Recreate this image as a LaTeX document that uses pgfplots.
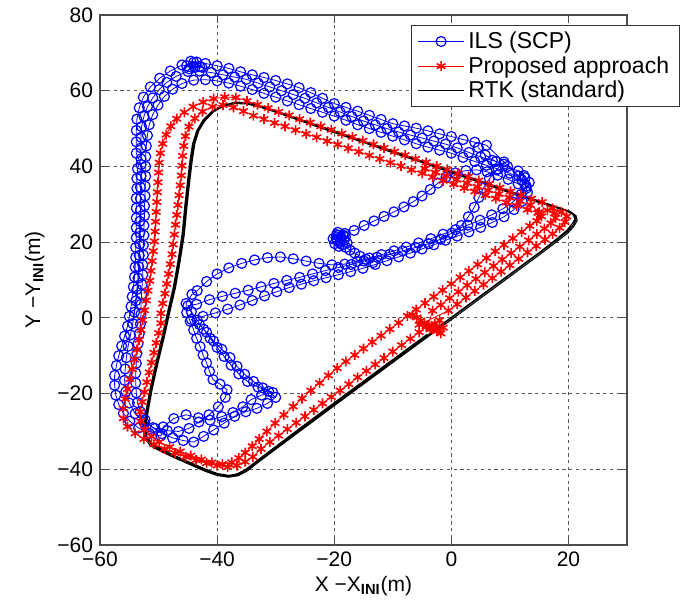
\documentclass[border=0pt]{standalone}
\usepackage{pgfplots}
\pgfplotsset{compat=1.18}
\usepackage{fontspec}
\setmainfont{Liberation Sans}

\definecolor{ilsblue}{RGB}{0,0,255}
\definecolor{propred}{RGB}{255,0,0}

\begin{document}
\begin{tikzpicture}
\begin{axis}[
    scale only axis,
    width=263.5pt, height=265pt,
    xmin=-60, xmax=30, ymin=-60, ymax=80,
    xtick={-60,-40,-20,0,20},
    xticklabels={−60,−40,−20,0,20},
    ytick={-60,-40,-20,0,20,40,60,80},
    yticklabels={−60,−40,−20,0,20,40,60,80},
    tick align=inside,
    major tick length=4pt,
    tick style={black!70, line width=0.5pt},
    axis line style={black!70, line width=0.7pt},
    grid=major,
    major grid style={black!65, line width=0.5pt, dash pattern=on 1.6pt off 1.8pt},
    tick label style={font=\fontsize{10.5}{12}\selectfont},
    label style={font=\fontsize{10.5}{12}\selectfont},
    xlabel={X −X\textsubscript{\textbf{INI}}(m)},
    ylabel={Y −Y\textsubscript{\textbf{INI}}(m)},
    xlabel style={at={(axis description cs:0.5,-0.077)}, anchor=center},
    ylabel style={at={(axis description cs:-0.124,0.5)}, anchor=center},
    legend style={at={(1.1,0.981)}, anchor=north east,
        draw=black!80, line width=0.6pt, fill=white,
        font=\fontsize{11.5}{12}\selectfont, inner xsep=3pt, inner ysep=1pt,
        row sep=-1.5pt, cells={anchor=west}},
    legend image code/.code={
        \draw[mark repeat=2,mark phase=2] plot coordinates {(0cm,0cm) (0.4cm,0cm) (0.8cm,0cm)};},
]
% ILS (SCP)
\addplot[color=ilsblue, line width=0.4pt, mark=o, mark size=2.5pt,
    mark options={line width=0.6pt}] coordinates {
(-13.4,14.6)(-14.6,15.5)(-15.6,16.3)(-16.5,17.1)(-17.3,17.9)(-18,18.6)(-18.6,19.3)(-19.1,19.9)
(-19.5,20.5)(-19.7,21.2)(-19.3,21.8)(-18.8,21.2)(-18.3,20.5)(-18.9,20.3)(-19.6,22.0)(-18.2,22.3)
(-19.9,19.6)(-19.2,18.9)(-18.5,21.9)(-20.2,20.9)(-17.8,19.8)(-18.1,21.4)(-19.4,22.6)
(-16.6,23.1)(-14.9,24.4)(-13.2,25.6)(-11.5,26.8)(-9.8,28)(-8.1,29.3)(-6.5,30.7)(-5,32.2)
(-3.6,33.9)(-2.3,35.6)(-0.9,37.2)(0.7,38.3)(2.5,38.9)(4.3,39.1)(6.1,38.6)(7.9,37.7)(9.7,36.6)
(11.4,35.4)(12.8,34.2)(13.3,35.8)(12.4,37.6)
(12,36.5)(10,38.2)(8,39.3)(6,40.3)(4,41.3)(2,42.4)(0,43.5)(-2,44.3)(-4,45.1)(-6,46)(-8,47)
(-10,48)(-12,49)(-14,50)(-16,51)(-18,52.2)(-20,53.3)(-22,54.3)(-24,55.3)(-26,56.3)(-28,57.3)
(-30,58.3)(-32,59.3)(-34,60.3)(-36,61.2)(-38,62)(-40,62.6)(-42,62.9)(-44,62.8)(-46,61.9)
(-47.6,60.4)(-49,58.5)(-50.1,56.2)(-51,53.7)(-51.6,51)(-51.9,48.2)(-52.1,45.4)(-52.2,42.6)
(-52.2,40)(-52.2,37.4)(-52.3,34.8)(-52.3,32.2)(-52.4,29.6)(-52.4,27)(-52.5,24.4)(-52.5,21.8)
(-52.6,19.2)(-52.6,16.6)(-52.7,14)(-52.7,11.4)(-52.8,8.8)(-52.9,6.2)(-53,3.6)(-53,1)
(-53.1,-1.6)(-53.3,-4.2)(-53.5,-6.8)(-53.7,-9.4)(-53.8,-12)(-53.9,-14.6)(-53.9,-17.2)
(-53.8,-19.8)(-53.6,-22.4)(-53.1,-24.8)(-52.3,-27)(-51,-29)(-49.4,-30.6)(-47.6,-31.7)
(-45.8,-32.4)(-44,-32.8)(-42.3,-31.3)(-40.6,-29.6)(-38.8,-27.8)(-37,-26)(-35.1,-24.8)
(-33.2,-23.9)(-31.4,-22.6)(-30,-21)(-31.2,-19.4)(-33,-18.3)(-34.8,-16.8)(-36.3,-14.8)
(-37.6,-12.5)(-38.8,-10.2)(-40,-7.8)(-41.2,-5.4)(-42.3,-3)(-43.4,-0.6)(-44.4,1.6)(-45,3.2)
(-43.5,3.6)(-41.3,4.8)(-39.1,5.7)(-36.9,6.5)(-34.7,7.3)(-32.5,8.2)(-30.3,9.1)(-28.1,9.9)
(-25.9,10.7)(-23.7,11.6)(-21.5,12.5)(-19.3,13.3)(-17.1,14.1)(-14.9,15.0)(-12.7,16.0)
(-10.5,16.8)(-8.3,17.7)(-6.1,18.6)(-3.9,19.6)(-1.8,20.8)(0.1,22.4)(1.7,24.4)(2.9,26.7)
(3.9,29.2)(4.7,31.8)(5.5,34.3)(6.5,36.8)(7.7,39.1)(9,41.2)
(9,40.6)(7,41.6)(5,42.5)(3,43.7)(1,44.9)(-1,45.9)(-3,46.7)(-5,47.5)(-7,48.3)(-9,49.1)(-11,50)
(-13,51)(-15,52)(-17,53.2)(-19,54.4)(-21,55.6)(-23,56.8)(-25,58)(-27,59)(-29,60)(-31,61)
(-33,62)(-35,63)(-37,63.6)(-39,64.2)(-41,64.8)(-43,65.2)(-45,65.1)(-47,63.8)(-48.6,62.2)
(-49.9,60.3)(-51,58.1)(-51.9,55.8)(-52.5,53.2)(-52.9,50.5)(-53,47.7)(-53,44.9)(-53,42)
(-53.6,39.4)(-53.7,36.8)(-53.7,34.2)(-53.8,31.6)(-53.8,29)(-53.8,26.4)(-53.8,23.8)
(-53.8,21.2)(-53.9,18.6)(-53.9,16)(-54,13.4)(-54.1,10.8)(-54.3,8.2)(-54.5,5.6)(-54.7,3)
(-55,0.4)(-55.3,-2.2)(-55.8,-4.8)(-56.3,-7.4)(-56.8,-10)(-57.2,-12.6)(-57.5,-15.2)
(-57.5,-17.8)(-57.3,-20.4)(-56.8,-22.9)(-56,-25.2)(-54.9,-27.3)(-53.4,-29.1)(-51.6,-30.5)
(-49.6,-31.2)(-49.2,-28.8)(-47.4,-26.6)(-45.3,-25.6)(-43.2,-26.4)(-41.2,-27)(-39.2,-26.1)
(-37.3,-25)(-35.6,-23.5)(-34.2,-21.6)(-32.4,-20.4)(-30.5,-19.7)(-32.2,-18.5)(-33.8,-16.8)
(-35.3,-14.9)(-36.6,-12.8)(-37.8,-10.5)(-39.2,-8.3)(-40.6,-6.1)(-41.8,-3.8)(-43,-1.8)
(-44.4,-0.4)(-42.4,0.4)(-40.3,1.3)(-38.2,2.3)(-36.1,3.4)(-34,4.6)(-31.9,5.8)(-29.8,6.9)
(-27.7,8)(-25.6,8.9)(-23.5,9.8)(-21.4,10.6)(-19.3,11.4)(-17.2,12.2)(-15.1,13.1)(-13,14.1)
(-11,15.1)(-9,16.1)(-7,17.1)(-5,18.2)(-3,19.3)(-1,20.5)(1,21.6)(3,22.7)(5,23.9)(7,25.2)
(9,26.7)(10.7,28.6)(12.1,30.8)(13,33.2)(12.5,35.4)(11.5,37.5)
(6,45.6)(4,46.4)(2,47.1)(0,47.9)(-2,48.6)(-4,49.4)(-6,50.1)(-8,50.7)(-10,51.3)(-12,52.4)
(-14,53.5)(-16,54.6)(-18,55.6)(-20,56.6)(-22,58)(-24,59.5)(-26,60.8)(-28,61.8)(-30,62.7)
(-32,63.5)(-34,64.2)(-36,65)(-38,65.9)(-40,66.6)(-42,67.2)(-43,66.4)(-44.5,67.8)(-43.5,67.6)
(-45.2,66.6)(-44,67.5)(-42.6,66.2)(-44.8,65.8)(-43.8,66.1)(-46,66.8)(-48,65.2)(-49.8,63.3)
(-51.4,61)(-52.6,58.3)(-53.3,55.5)
(-53.7,52.5)(-53.8,49.5)(-53.8,46.5)(-53.8,43.5)
(-53,40.5)(-53,37.5)(-53.1,34.5)(-53.1,31.5)(-53.1,28.5)(-53.2,25.5)(-53.2,22.5)(-53.2,19.5)
(-53.3,16.5)(-53.4,13.5)(-53.5,10.5)(-53.7,7.5)(-53.9,4.5)(-54.1,1.5)(-54.4,-1.5)(-54.8,-4.5)
(-55.2,-7.5)(-55.5,-10.5)(-55.7,-13.5)(-55.8,-16.5)(-55.6,-19.5)(-55,-22.5)(-54,-25.3)
(-52.5,-27.6)(-50.6,-29.2)(-48.5,-29.8)(-46.6,-30)(-44.8,-29.2)(-43.1,-27.5)(-41.4,-25.6)
(-39.8,-23.5)(-38.6,-21)(-38.3,-19)(-39.5,-17.5)(-40.7,-16.3)(-41.3,-14.1)(-41.8,-11.9)
(-42.4,-9.8)(-42.9,-7.6)(-43.5,-5.4)(-44,-3.2)(-44.6,-0.9)(-45.2,1.4)(-45.3,3.8)(-44.3,6.2)
(-43.4,7.2)(-41.8,9.6)(-40,11.6)(-38,13.2)(-35.8,14.4)(-33.6,15.3)(-31.4,15.9)(-29.2,16.1)
(-27,15.6)(-24.8,15.0)(-22.6,14.4)(-20.4,14.0)(-18.2,14.2)(-16.1,14.9)(-14,15.8)(-11.9,16.7)
(-9.8,17.7)(-7.7,18.7)(-5.6,19.8)(-3.5,20.9)(-1.4,22.1)(0.7,23.3)(2.8,24.5)(4.9,25.8)
(6.9,27.2)(8.8,28.8)(10.5,30.6)(11.9,32.6)(12.8,34.8)(12.6,37)(11.4,38.8)(9.6,40)(7.6,41.3)
(5.8,43)(4.6,45)
};
% Proposed approach
\addplot[color=propred, line width=0.4pt, mark=asterisk, mark size=2.5pt,
    mark options={line width=0.8pt}] coordinates {
(-6.6,0.8)(-5.9,0.1)(-5.2,-0.7)(-4.6,-1.4)(-3.9,-2.1)(-3.2,-2.8)(-2.5,-3.5)(-1.8,-4.1)
(-2.2,-3.1)(-3.0,-2.3)(-3.6,-3.0)(-4.3,-2.2)(-2.8,-1.6)(-2.0,-0.6)(-1.4,-2.6)(-5.5,-1.8)
(-0.5,1.9)(1,3.6)(2.5,5.4)(4,7.1)(5.5,8.8)(7,10.5)(8.5,12.2)(10,13.9)(11.5,15.6)(13,17.3)
(14.5,19.0)(16,20.7)(17.3,22.2)(18.5,23.8)(19.4,25.3)(19.7,26.8)(18.8,28.0)(17.3,28.9)
(15.5,30.6)(13.7,31.5)(11.9,32.5)(10.1,33.4)(8.3,34.4)(6.5,35.4)(4.7,36.3)(2.9,37.3)
(1.1,38.2)(-0.7,39.2)(-2.5,40.1)(-4.3,41.1)(-6.1,42.0)(-7.9,43.0)(-9.7,43.9)(-11.5,44.9)
(-13.3,45.8)(-15.1,46.8)(-16.9,47.8)(-18.7,48.7)(-20.5,49.7)(-22.3,50.6)(-24.1,51.6)
(-25.9,52.5)(-27.7,53.5)(-29.5,54.4)(-31.3,55.4)(-33.1,56.3)(-34.9,57.3)
(-36.8,58.2)(-38.7,58.3)(-40.6,57.9)(-42.4,57.0)(-44.1,55.8)(-45.6,54.3)(-46.9,52.6)
(-47.9,50.6)(-48.7,48.4)(-49.3,46.0)(-49.7,43.5)
(-49.9,41.0)(-50.0,38.4)(-50.1,35.8)(-50.2,33.2)(-50.3,30.6)(-50.4,28.0)(-50.5,25.4)
(-50.6,22.8)(-50.7,20.2)(-50.9,17.6)(-51.1,15.0)(-51.3,12.4)(-51.5,9.8)(-51.8,7.2)
(-52.1,4.6)(-52.4,2.0)(-52.7,-0.6)(-53.0,-3.2)(-53.3,-5.8)(-53.7,-8.4)(-54.1,-11.0)
(-54.5,-13.6)(-54.9,-16.2)(-55.3,-18.8)(-55.7,-21.4)(-56.0,-24.0)(-56.0,-26.5)(-55.3,-28.7)
(-54.0,-30.5)(-52.5,-32.0)(-50.8,-33.4)(-49.0,-34.6)(-47.2,-35.7)(-45.4,-36.7)(-43.6,-37.6)
(-41.8,-38.4)(-40.0,-39.0)(-38.2,-39.4)(-36.6,-39.0)(-35.2,-38.0)(-33.9,-36.7)
(-32.5,-34.6)(-31.0,-32.8)(-29.5,-31.1)(-28.0,-29.4)(-26.5,-27.7)(-25.0,-26.0)(-23.5,-24.3)
(-22.0,-22.6)(-20.5,-20.9)(-19.0,-19.2)(-17.5,-17.5)(-16.0,-15.7)(-14.5,-14.0)(-13.0,-12.3)
(-11.5,-10.6)(-10.0,-8.9)(-8.5,-7.2)(-7.0,-5.5)(-5.5,-3.8)(-4.0,-2.1)
(-3.2,1.9)(-1.8,3.4)(-0.3,5.2)(1.2,6.9)(2.7,8.6)(4.2,10.3)(5.7,12.0)(7.2,13.7)(8.7,15.4)
(10.2,17.1)(11.7,18.8)(13.2,20.5)(14.6,22.1)(15.9,23.6)(17.0,25.0)(17.8,26.4)(17.6,27.6)
(16.4,28.4)
(14.8,27.7)(13.0,28.6)(11.2,29.6)(9.4,30.5)(7.6,31.5)(5.8,32.4)(4.0,33.4)(2.2,34.3)
(0.4,35.3)(-1.4,36.2)(-3.2,37.2)(-5.0,38.2)(-6.8,39.1)(-8.6,40.1)(-10.4,41.0)(-12.2,42.0)
(-14.0,42.9)(-15.8,43.9)(-17.6,44.8)(-19.4,45.8)(-21.2,46.7)(-23.0,47.7)(-24.8,48.6)
(-26.6,49.6)(-28.4,50.6)(-30.2,51.5)(-32.0,52.5)(-33.8,53.4)
(-35.5,54.6)(-37.2,55.6)(-39,56.2)(-40.8,55.8)(-42.5,54.5)(-43.8,52.7)(-44.8,50.5)
(-45.4,48.0)(-45.7,45.4)(-45.9,42.8)
(-46.0,40.2)(-46.1,37.6)(-46.3,35.0)(-46.5,32.4)(-46.7,29.8)(-46.9,27.2)(-47.1,24.6)
(-47.3,22.0)(-47.5,19.4)(-47.7,16.8)(-48.0,14.2)(-48.3,11.6)(-48.6,9.0)(-48.9,6.4)
(-49.3,3.8)(-49.6,1.2)(-49.6,-1.4)(-50.0,-4.0)(-50.4,-6.6)(-50.8,-9.2)(-51.2,-11.8)
(-51.6,-14.4)(-52.0,-17.0)(-52.4,-19.6)(-52.8,-22.2)(-53.1,-24.8)(-53.1,-27.3)(-52.4,-29.5)
(-51.2,-31.3)(-49.9,-32.8)(-48.1,-34.1)(-46.3,-35.3)(-44.5,-36.4)(-42.7,-37.4)(-40.9,-38.2)
(-39.1,-38.6)(-37.5,-38.2)(-36.3,-37.0)
(-35.2,-35.6)(-34.0,-33.9)(-32.8,-32.0)(-31.5,-30.0)(-30.1,-27.8)(-28.6,-25.6)(-27.0,-23.4)
(-25.5,-21.3)(-24.0,-19.2)(-22.5,-17.2)(-21.0,-15.2)(-19.5,-13.3)
(-18,-11.5)(-16.5,-9.8)(-15,-8.1)(-13.5,-6.4)(-12,-4.7)(-10.5,-3.0)(-9,-1.3)(-7.5,0.5)
(-6,2.2)(-4.5,3.9)(-3,5.6)(-1.5,7.3)(0,9.0)(1.5,10.7)(3,12.4)(4.5,14.1)(6,15.8)(7.5,17.6)
(9,19.3)(10.5,21.0)(12,22.7)(13.4,24.3)(14.6,25.6)(15.4,26.8)(15.0,28.0)
(13.5,29.8)(11.7,30.8)(9.9,31.8)(8.1,32.7)(6.3,33.7)(4.5,34.6)(2.7,35.6)(0.9,36.5)
(-0.9,37.5)(-2.7,38.4)(-4.5,39.4)
};
% RTK (standard)
\addplot[color=black, line width=0.5pt, mark=none] coordinates {
(-4,-4.6)(0,0)(5,5.7)(10,11.4)(15,17.1)(18,20.6)(19.8,22.8)(20.8,24.5)(21.3,26)(21,27.2)
(20,28.2)(18,29.2)(15,30.6)(10,33.2)(5,35.9)(0,38.5)(-5,41.2)(-10,43.8)(-15,46.5)(-20,49.1)
(-25,51.8)(-30,54.5)(-33,56)(-35,56.7)(-37,56.8)(-39,56)(-40.8,54.5)(-42.2,52.3)(-43.3,49.5)
(-44,46)(-44.4,42)(-44.8,37)(-45.3,30)(-45.8,22)(-46.5,15)(-47.3,8)(-48.2,2)(-49.2,-5)
(-50.3,-12)(-51.3,-19)(-52,-25)(-52.4,-29)(-52.2,-31.5)(-51.2,-33.5)(-49.5,-35)(-47,-36.8)
(-44.5,-38.5)(-42,-40.2)(-40,-41.3)(-38,-41.8)(-36.5,-41.4)(-35,-40.2)(-32.5,-37.2)
(-30,-34.3)(-26,-29.7)(-20,-22.8)(-15,-17.1)(-10,-11.4)(-4,-4.6)
(-4,-5.0)(0,-0.5)(5,5.2)(10,10.9)(15,16.6)(18,20.1)(19.9,22.4)(20.9,24.1)(21.5,25.7)(21.3,27.0)
(20.2,28.2)(18.1,29.3)(15,30.9)(10,33.5)(5,36.2)(0,38.8)(-5,41.4)(-10,44.1)(-15,46.7)
(-20,49.4)(-25,52)(-30,54.7)(-33,56.2)(-35,56.9)(-37,57)(-39.1,56.1)(-40.9,54.6)
(-42.4,52.3)(-43.5,49.4)(-44.2,46)(-44.6,42)(-45,37)(-45.5,30)(-46,22)(-46.7,15)
(-47.5,8)(-48.4,2)(-49.4,-5)(-50.5,-12)(-51.5,-19)(-52.2,-25)(-52.6,-29)(-52.4,-31.7)
(-51.4,-33.8)(-49.6,-35.3)(-47.1,-37.1)(-44.6,-38.8)(-42.1,-40.5)(-40.1,-41.6)(-38.1,-42.1)
(-36.4,-41.7)(-34.9,-40.5)(-32.4,-37.5)(-29.9,-34.6)(-25.9,-30)(-19.9,-23.1)(-14.9,-17.4)
(-9.9,-11.7)(-3.9,-4.9)
(-3.8,-4.2)(0.2,0.4)(5.2,6.1)(10.2,11.8)(15.2,17.5)(18.1,21)(19.7,23.1)(20.6,24.8)
(21.1,26.1)(20.8,27.3)(19.8,28.1)(17.9,29.1)(15,30.4)(10,33)(5,35.7)(0,38.3)(-5,41)
(-10,43.6)(-15,46.3)(-20,48.9)(-25,51.6)(-30,54.3)(-33,55.8)(-35,56.5)(-36.9,56.6)
(-38.9,55.9)(-40.6,54.4)(-42,52.2)(-43.1,49.5)(-43.8,46)(-44.2,42)(-44.6,37)(-45.1,30)
(-45.6,22)(-46.3,15)(-47.1,8)(-48,2)(-49,-5)(-50.1,-12)(-51.1,-19)(-51.8,-25)(-52.2,-29)
(-52,-31.4)(-51,-33.3)(-49.3,-34.8)(-46.9,-36.6)(-44.4,-38.3)(-41.9,-40)(-39.9,-41.1)
(-38,-41.6)(-36.6,-41.2)(-35.1,-40)(-32.6,-37)(-30.1,-34.1)(-26.1,-29.4)(-20.1,-22.5)
(-15.1,-16.8)(-10.1,-11.1)(-4.1,-4.3)
};
\legend{ILS (SCP),Proposed approach,RTK (standard)}
\end{axis}
\pgfresetboundingbox
\path ([xshift=-50pt,yshift=-31pt]current axis.south west)
    rectangle ([xshift=26.5pt,yshift=7.5pt]current axis.north east);
\end{tikzpicture}
\end{document}
